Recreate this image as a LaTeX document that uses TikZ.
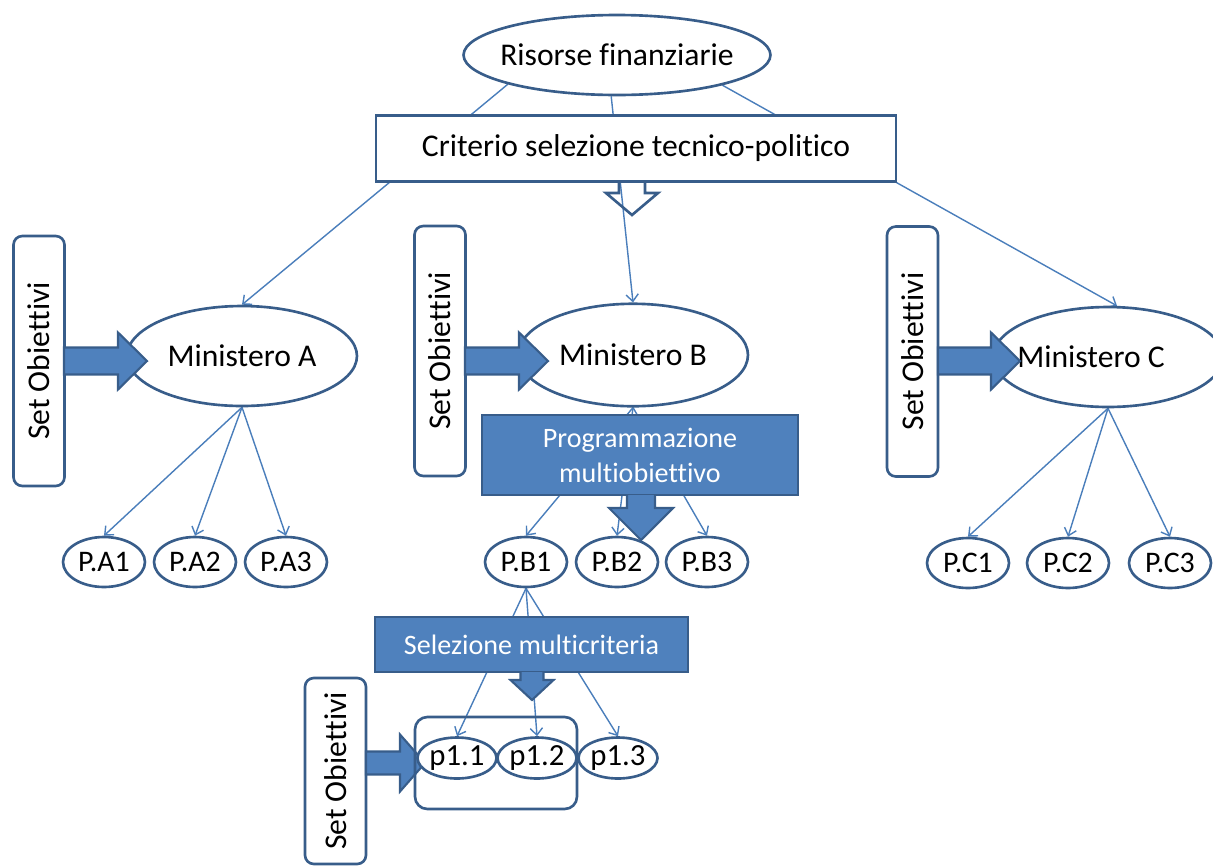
\documentclass[tikz,border=0pt]{standalone}
\usepackage{fontspec}
\setmainfont{Carlito}[Ligatures=NoCommon]
\usetikzlibrary{shapes.geometric}
\usetikzlibrary{arrows.meta}

\definecolor{outl}{RGB}{56,93,138}
\definecolor{boxfill}{RGB}{79,129,189}
\definecolor{link}{RGB}{74,126,187}

\pgfdeclarelayer{bg}
\pgfsetlayers{bg,main}

% fat arrow pointing right: start x, tip x, mid y, stem half, head half, head length
\newcommand{\rightfat}[6]{%
  \filldraw[fatarrow] (#1,#3-#4) -- (#2-#6,#3-#4) -- (#2-#6,#3-#5) -- (#2,#3)
    -- (#2-#6,#3+#5) -- (#2-#6,#3+#4) -- (#1,#3+#4) -- cycle;}
% fat arrow pointing down: mid x, start y, tip y, stem half, head half, head length, style
\newcommand{\downfat}[7]{%
  \draw[#7] (#1-#4,#2) -- (#1-#4,#3-#6) -- (#1-#5,#3-#6) -- (#1,#3)
    -- (#1+#5,#3-#6) -- (#1+#4,#3-#6) -- (#1+#4,#2);}

\tikzset{
  ell/.style={ellipse, draw=outl, line width=1.5pt, fill=white, inner sep=0pt,
    font=\fontsize{18}{21}\selectfont},
  pnode/.style={ell, minimum width=1.64cm, minimum height=1cm,
    font=\fontsize{17}{20}\selectfont},
  subnode/.style={ell, minimum width=1.58cm, minimum height=0.82cm,
    font=\fontsize{17.5}{20}\selectfont},
  setbox/.style={draw=outl, line width=1.5pt, fill=white, rounded corners=5pt,
    rotate=90, inner sep=0pt, minimum width=5cm, minimum height=1.02cm,
    font=\fontsize{18}{21}\selectfont},
  bluebox/.style={rectangle, draw=outl, line width=1.2pt, fill=boxfill, text=white,
    align=center, font=\fontsize{16}{20}\selectfont},
  fatarrow/.style={draw=outl, fill=boxfill, line width=1.2pt, line join=miter},
  link/.style={draw=link, line width=0.8pt, -{Straight Barb[length=4pt,width=7pt]}}
}

\begin{document}
\begin{tikzpicture}[x=0.02cm, y=-0.02cm]
  \useasboundingbox (0,0) rectangle (1213,866);
  \clip (0,0) rectangle (1213,866);

  % top
  \node[ell, minimum width=6.14cm, minimum height=1.6cm, inner xsep=-5pt] (ris) at (617,55) {Risorse finanziarie};
  \node[rectangle, draw=outl, line width=1.5pt, fill=white, minimum width=10.4cm, minimum height=1.32cm,
    font=\fontsize{18}{21}\selectfont] (crit) at (636,148.5) {Criterio selezione tecnico-politico};
  \downfat{632}{182}{215}{13}{26}{22}{draw=outl, line width=1.5pt, line join=miter}

  % ministeri
  \node[ell, minimum width=4.6cm, minimum height=2cm] (minA) at (242,356) {Ministero A};
  \node[ell, minimum width=4.6cm, minimum height=2.05cm] (minB) at (633,355) {Ministero B};
  \node[ell, minimum width=4.6cm, minimum height=2cm,
    label={[name=minCtxt, xshift=-0.34cm, font=\fontsize{18}{21}\selectfont]center:Ministero C}] (minC) at (1108,357) {};

  \node[setbox] (setA) at (39,361) {Set Obiettivi};
  \node[setbox] (setB) at (440,351) {Set Obiettivi};
  \node[setbox] (setC) at (912.5,351.5) {Set Obiettivi};
  \node[setbox, minimum width=3.72cm, minimum height=1.22cm] (setD) at (335.5,771) {Set Obiettivi};

  \rightfat{64}{147}{361}{13.5}{28.5}{29}
  \rightfat{465}{548}{361}{13.5}{28.5}{29}
  \rightfat{938}{1020}{361}{13.5}{28.5}{29}
  \rightfat{366}{425}{763}{11.5}{28.5}{25}

  % progetti
  \node[pnode] (pA1) at (104,562) {P.A1};
  \node[pnode] (pA2) at (195,562) {P.A2};
  \node[pnode] (pA3) at (286,562) {P.A3};
  \node[pnode] (pB1) at (526,562) {P.B1};
  \node[pnode] (pB2) at (617,562) {P.B2};
  \node[pnode] (pB3) at (707,562) {P.B3};
  \node[pnode] (pC1) at (968,563) {P.C1};
  \node[pnode] (pC2) at (1068,563) {P.C2};
  \node[pnode] (pC3) at (1170,563) {P.C3};

  \node[bluebox, minimum width=6.32cm, minimum height=1.6cm] (prog) at (640,455) {Programmazione\\multiobiettivo};
  \downfat{641}{495}{540}{14}{32}{32}{fatarrow}

  \node[bluebox, minimum width=6.26cm, minimum height=1.1cm] (sel) at (531.5,644.5) {Selezione multicriteria};
  \downfat{532}{672}{700}{11.5}{21.5}{20}{fatarrow}

  % sottoprogetti
  \node[draw=outl, line width=1.5pt, rounded corners=7pt, minimum width=3.24cm, minimum height=1.84cm] (grp) at (496,763) {};
  \node[subnode] (p11) at (457,758) {p1.1};
  \node[subnode] (p12) at (537,758) {p1.2};
  \node[subnode] (p13) at (618,758) {p1.3};

  \begin{pgfonlayer}{bg}
    \draw[link] (ris.195) -- (minA.north);
    \draw[link] (ris.262) -- (minB.north);
    \draw[link] (ris.-16) -- (minC.80);
    \foreach \k in {1,2,3} {
      \draw[link] (minA.south) -- (pA\k.north);
      \draw[link] (minB.south) -- (pB\k.north);
      \draw[link] (minC.south) -- (pC\k.north);
    }
    \foreach \k in {1,2,3}
      \draw[link] (pB1.south) -- (p1\k.north);
  \end{pgfonlayer}
\end{tikzpicture}
\end{document}
